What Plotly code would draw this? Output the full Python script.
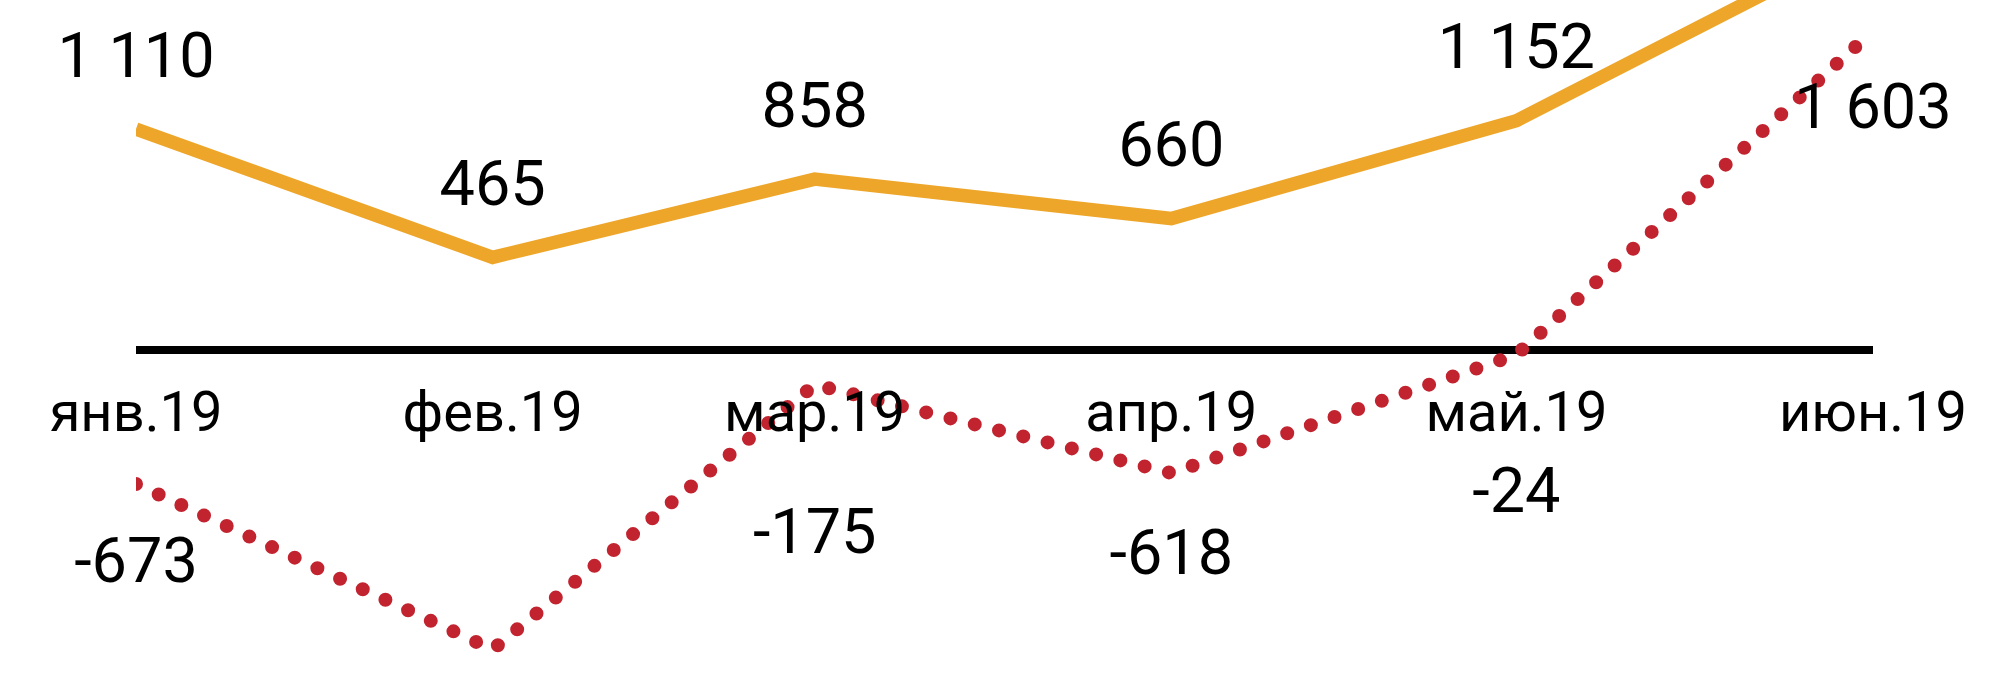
import plotly.graph_objects as go

# data (monthly dates -> the axis is a date axis, so spacing follows month lengths)
dates = ["2019-01-01", "2019-02-01", "2019-03-01", "2019-04-01", "2019-05-01", "2019-06-01"]
months = ["янв.19", "фев.19", "мар.19", "апр.19", "май.19", "июн.19"]
orange_vals = [1110, 465, 858, 660, 1152, 2070]
red_vals = [-673, -1505, -175, -618, -24, 1603]

# labels as printed on the chart (the ones falling outside the picture are left empty)
orange_labels = ["1 110", "465", "858", "660", "1 152", ""]
red_labels = ["-673", "", "-175", "-618", "-24", "1 603"]

ORANGE = "#EEA62A"
RED = "#C1232F"
FONT = "Roboto"

y_min, y_max = -1678, 1758
zero_pos = (0 - y_min) / (y_max - y_min)

fig = go.Figure()

fig.add_trace(go.Scatter(
    x=dates, y=orange_vals,
    mode="lines+markers+text",
    line=dict(color=ORANGE, width=13.5),
    marker=dict(size=57, opacity=0),
    text=orange_labels,
    textposition="top center",
    textfont=dict(family=FONT, size=63, color="black"),
    cliponaxis=False,
    hoverinfo="skip",
))

fig.add_trace(go.Scatter(
    x=dates, y=red_vals,
    mode="lines+markers+text",
    line=dict(color=RED, width=14, dash="dot"),
    # invisible markers only push the labels away from the line
    marker=dict(size=[80, 80, 192, 84, 175, 78], opacity=0),
    text=red_labels,
    textposition="bottom center",
    textfont=dict(family=FONT, size=63, color="black"),
    cliponaxis=False,
    hoverinfo="skip",
))

fig.update_layout(
    width=2000, height=684,
    margin=dict(l=136, r=127, t=0, b=0),
    plot_bgcolor="white", paper_bgcolor="white",
    showlegend=False,
    xaxis=dict(
        type="date",
        range=[dates[0], dates[-1]],
        tickvals=dates, ticktext=months,
        anchor="free", position=zero_pos,
        showgrid=False, showline=False, zeroline=False,
        ticks="", ticklabelstandoff=24,
        tickfont=dict(family=FONT, size=56, color="black"),
    ),
    yaxis=dict(
        range=[y_min, y_max],
        showgrid=False, showticklabels=False, ticks="",
        zeroline=True, zerolinecolor="black", zerolinewidth=7.5,
    ),
)

# no page margin, round dots for the dotted line
post = """
document.body.style.margin = '0';
document.body.style.overflow = 'hidden';
var tr = document.querySelectorAll('.scatterlayer .trace');
if (tr.length > 1) {
  var p = tr[1].querySelector('.js-line');
  if (p) { p.style.strokeLinecap = 'round'; p.style.strokeDasharray = '0 25px'; }
}
"""

fig.write_html("out.html", post_script=post, config={"displayModeBar": False})
